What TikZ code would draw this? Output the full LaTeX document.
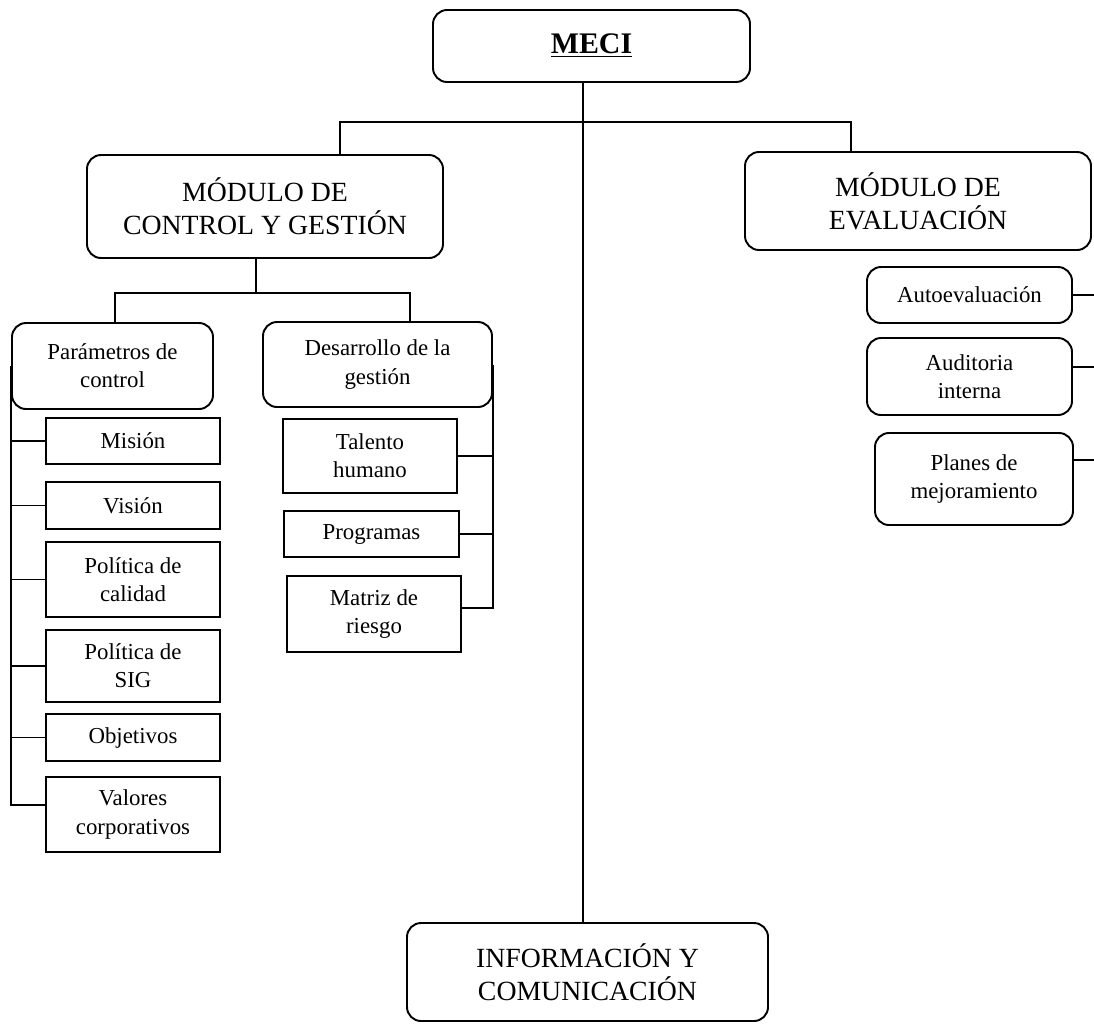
\documentclass[tikz,border=0pt]{standalone}
\usepackage{fontspec}
\setmainfont{Liberation Serif}
\tikzset{
  rbox/.style={draw, rounded corners=8pt, line width=1.1pt, align=center, inner sep=0pt},
  sbox/.style={draw, line width=1.1pt, align=center, inner sep=0pt},
  bigtxt/.style={font=\fontsize{15.8}{19}\selectfont},
  smalltxt/.style={font=\fontsize{13}{16}\selectfont},
  link/.style={line width=1.1pt}
}
\begin{document}
\begin{tikzpicture}[x=0.2mm,y=-0.2mm]
  \useasboundingbox (0,0) rectangle (1094,1024);
  % top level
  \node[rbox, minimum width=63.4mm, minimum height=14.4mm, font=\fontsize{17}{20}\selectfont] (meci) at (591.5,46) {\underline{\textbf{MECI}}};
  \node[rbox, bigtxt, minimum width=71.2mm, minimum height=20.6mm] (ctrl) at (265,206.5) {MÓDULO DE\\CONTROL Y GESTIÓN};
  \node[rbox, bigtxt, minimum width=69.2mm, minimum height=19.6mm] (eval) at (918,201) {MÓDULO DE\\EVALUACIÓN};
  \node[rbox, bigtxt, minimum width=72.2mm, minimum height=19.6mm] (info) at (587.5,972) {INFORMACIÓN Y\\COMUNICACIÓN};
  % control y gestion
  \node[rbox, smalltxt, minimum width=40.2mm, minimum height=17.2mm] (param) at (112.5,366) {Parámetros de\\control};
  \node[rbox, smalltxt, minimum width=45.8mm, minimum height=17mm] (desa) at (377.5,364.5) {Desarrollo de la\\gestión};
  \node[sbox, smalltxt, minimum width=34.8mm, minimum height=9.2mm] (mision) at (133,441) {Misión};
  \node[sbox, smalltxt, minimum width=34.8mm, minimum height=9.4mm] (vision) at (133,505.5) {Visión};
  \node[sbox, smalltxt, minimum width=34.8mm, minimum height=15mm] (calidad) at (133,579.5) {Política de\\calidad};
  \node[sbox, smalltxt, minimum width=34.8mm, minimum height=14.4mm] (sig) at (133,666) {Política de\\SIG};
  \node[sbox, smalltxt, minimum width=34.8mm, minimum height=9.4mm] (objet) at (133,737.5) {Objetivos};
  \node[sbox, smalltxt, minimum width=34.8mm, minimum height=15mm] (valores) at (133,814.5) {Valores\\corporativos};
  \node[sbox, smalltxt, minimum width=34.8mm, minimum height=14.8mm] (talento) at (370,456) {Talento\\humano};
  \node[sbox, smalltxt, minimum width=35mm, minimum height=9.2mm] (progr) at (371.5,534) {Programas};
  \node[sbox, smalltxt, minimum width=34.8mm, minimum height=15.2mm] (matriz) at (374,614) {Matriz de\\riesgo};
  % evaluacion
  \node[rbox, smalltxt, minimum width=41mm, minimum height=11.2mm] (auto) at (969.5,295) {Autoevaluación};
  \node[rbox, smalltxt, minimum width=41mm, minimum height=15.4mm] (audit) at (969.5,376.5) {Auditoria\\interna};
  \node[rbox, smalltxt, minimum width=39.6mm, minimum height=18.4mm] (planes) at (974,479) {Planes de\\mejoramiento};

  % connectors
  \coordinate (spine) at (583,122);
  \coordinate (busL) at (340,122);
  \coordinate (busR) at (851,122);
  \draw[link] (meci.south -| spine) -- (spine |- info.north);
  \draw[link] (ctrl.north -| busL) -- (busL) -- (busR) -- (eval.north -| busR);
  \coordinate (cs) at (256,293);
  \coordinate (csL) at (115,293);
  \coordinate (csR) at (410,293);
  \draw[link] (ctrl.south -| cs) -- (cs);
  \draw[link] (param.north -| csL) -- (csL) -- (csR) -- (desa.north -| csR);
  \coordinate (lend) at (12,805);
  \draw[link] (param.west) -- (param.west |- lend) -- (valores.west |- lend);
  \foreach \n in {mision,vision,calidad,sig,objet}
    \draw[link] (param.west |- \n.west) -- (\n.west);
  \coordinate (dend) at (492,608);
  \draw[link] (desa.east) -- (desa.east |- dend) -- (matriz.east |- dend);
  \foreach \n in {talento,progr}
    \draw[link] (\n.east) -- (desa.east |- \n.east);
  \coordinate (r1) at (1094,295);
  \coordinate (r2) at (1094,367);
  \coordinate (r3) at (1094,460);
  \draw[link] (auto.east |- r1) -- (r1);
  \draw[link] (audit.east |- r2) -- (r2);
  \draw[link] (planes.east |- r3) -- (r3);
\end{tikzpicture}
\end{document}
